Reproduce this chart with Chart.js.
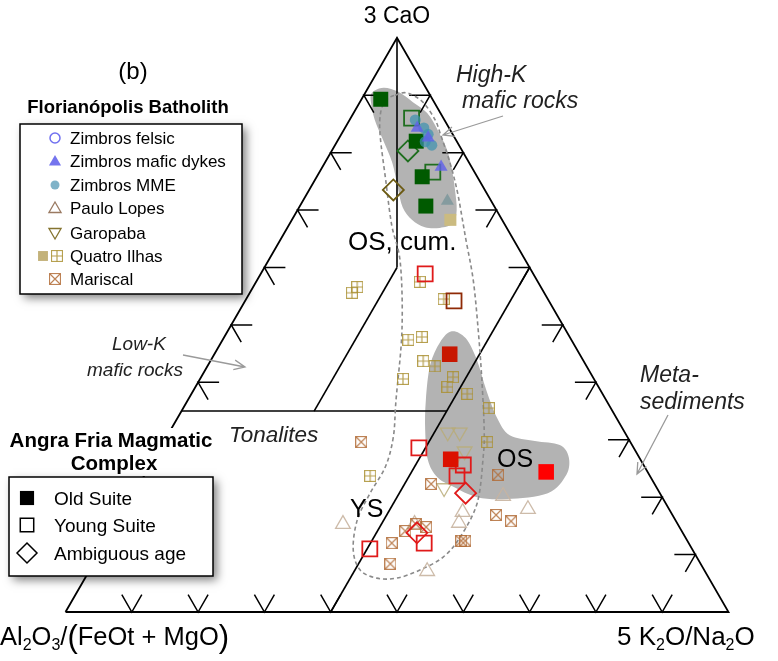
<!DOCTYPE html>
<html>
<head>
<meta charset="utf-8">
<script src="https://cdn.jsdelivr.net/npm/chart.js@4.4.1/dist/chart.umd.min.js"></script>
<style>
  html, body { margin: 0; padding: 0; background: #fff; }
  #wrap { width: 778px; height: 661px; }
</style>
</head>
<body>
<div id="wrap"><canvas id="ternary" width="778" height="661"></canvas></div>
<script>
// Compositions as [Al2O3/(FeOt+MgO), 3CaO, 5K2O/Na2O], in %
const zimbrosFelsic = [];
const zimbrosDykes = [[4.8, 84.3, 10.9], [4.0, 82.6, 13.4], [4.6, 77.5, 17.9]];
const zimbrosDykesGrey = [[6.6, 71.6, 21.8]];
const zimbrosMME = [[4.4, 85.7, 9.9], [3.8, 84.3, 11.9], [3.7, 83.2, 13.1], [4.8, 81.9, 13.3], [4.1, 81.3, 14.6]];
const pauloLopes = [[50.5, 15.3, 34.2], [23.9, 20.2, 55.9], [21.3, 17.9, 60.8], [31.4, 17.4, 51.2],
  [32.9, 15.5, 51.6], [41.9, 7.1, 51.0], [39.7, 15.3, 45.0]];
const garopaba = [[26.7, 31.3, 42.0], [24.9, 31.3, 43.8], [25.8, 28.0, 46.2], [28.5, 26.1, 45.4], [32.1, 21.6, 46.3]];
const quatroIlhasFilled = [[7.8, 68.3, 23.9]];
const quatroIlhas = [[27.7, 56.6, 15.7], [29.0, 55.6, 15.4], [17.8, 57.5, 24.7], [15.7, 54.5, 29.8],
  [24.6, 47.4, 28.0], [22.3, 47.9, 29.8], [24.2, 43.7, 32.1], [22.9, 42.8, 34.3], [28.8, 40.6, 30.6],
  [21.1, 40.9, 38.0], [22.8, 39.2, 38.0], [20.4, 38.0, 41.6], [18.4, 35.5, 46.1], [21.6, 29.6, 48.8],
  [42.2, 23.7, 34.1]];
const mariscal = [[40.6, 29.6, 29.8], [33.7, 22.3, 44.0], [22.8, 23.9, 53.3], [26.6, 16.9, 56.5],
  [24.9, 15.8, 59.3], [39.5, 15.3, 45.2], [41.7, 14.1, 44.2], [38.2, 14.8, 47.0], [44.8, 12.0, 43.2],
  [34.1, 12.4, 53.5], [33.5, 12.4, 54.1], [46.8, 8.4, 44.8]];

// Angra Fria Magmatic Complex
const oldSuiteGreen = [[7.8, 89.3, 2.9], [6.1, 82.0, 11.9], [8.3, 75.8, 15.9], [10.3, 70.7, 19.0]];
const youngSuiteGreen = [[4.8, 86.0, 9.2], [6.3, 76.6, 17.1]];
const ambiguousGreen = [[8.2, 80.3, 11.5]];
const ambiguousOlive = [[13.8, 73.5, 12.7]];
const oldSuiteRed = [[19.6, 44.9, 35.5], [28.6, 26.6, 44.8], [15.3, 24.4, 60.3]];
const youngSuiteRed = [[16.3, 58.9, 24.8], [32.4, 28.6, 39.0], [27.2, 25.6, 47.2], [29.1, 23.7, 47.2],
  [39.9, 12.0, 48.1], [48.6, 11.0, 40.4]];
const youngSuiteDarkRed = [[14.3, 54.2, 31.5]];
const ambiguousRed = [[29.3, 20.7, 50.0], [40.1, 13.8, 46.1]];

// Field boundaries
const fieldLines = [
  [[0, 100, 0], [20, 60, 20]],
  [[20, 60, 20], [45, 35, 20]],
  [[65, 35, 0], [25, 35, 40]],
  [[60, 0, 40], [0, 60, 40]]
];
const highKField = [[8.6, 90.4, 1.0], [6.4, 91.3, 2.3], [4.5, 90.6, 4.9], [3.2, 88.8, 8.0], [2.0, 86.9, 11.1],
  [1.9, 83.9, 14.2], [2.2, 80.5, 17.3], [3.2, 77.0, 19.8], [4.5, 73.5, 22.0], [6.0, 70.0, 24.0],
  [7.7, 67.7, 24.6], [10.1, 66.9, 23.0], [12.3, 67.0, 20.7], [13.6, 68.3, 18.1], [13.9, 70.5, 15.6],
  [12.9, 74.0, 13.1], [11.6, 78.2, 10.2], [11.0, 82.2, 6.8], [10.5, 85.7, 3.8], [9.6, 88.6, 1.8]];
const osField = [[17.3, 48.9, 33.8], [15.8, 47.7, 36.5], [16.0, 43.9, 40.1], [17.2, 38.7, 44.1],
  [18.0, 33.8, 48.2], [17.6, 30.8, 51.6], [14.3, 29.8, 55.9], [10.9, 29.1, 60.0], [10.6, 27.0, 62.4],
  [12.5, 23.9, 63.6], [16.9, 20.7, 62.4], [23.5, 19.7, 56.8], [27.9, 20.0, 52.1], [30.6, 21.8, 47.6],
  [32.2, 23.5, 44.3], [32.1, 26.5, 41.4], [29.9, 31.7, 38.4], [27.2, 36.9, 35.9], [23.5, 43.0, 33.5],
  [20.0, 47.0, 33.0]];
const ysOutline = [[5.3, 90.0, 4.7], [3.3, 90.4, 6.3], [1.7, 88.8, 9.5], [1.4, 85.7, 12.9], [1.8, 83.4, 14.8],
  [2.9, 78.2, 18.9], [4.2, 73.5, 22.3], [5.8, 68.8, 25.4], [7.2, 64.8, 28.0], [9.6, 57.8, 32.6],
  [13.2, 49.1, 37.7], [17.0, 40.4, 42.6], [21.0, 31.7, 47.3], [23.5, 27.0, 49.5], [28.4, 19.0, 52.6],
  [33.9, 13.1, 53.0], [38.2, 9.6, 52.2], [42.9, 7.3, 49.8], [47.1, 5.9, 47.0], [50.1, 5.9, 44.0],
  [51.9, 7.3, 40.8], [51.2, 10.8, 38.0], [48.0, 16.0, 36.0], [43.7, 20.7, 35.6], [39.1, 25.3, 35.6],
  [35.3, 30.5, 34.2], [31.7, 36.9, 31.4], [24.7, 49.1, 26.2], [19.1, 60.8, 20.1], [17.1, 67.4, 15.5],
  [14.1, 75.2, 10.7], [11.0, 83.1, 5.9], [8.9, 87.1, 4.0], [7.0, 89.2, 3.8]];

const SQ3 = Math.sqrt(3) / 2;
const FONT = "'Liberation Sans', Arial, Helvetica, sans-serif";

function toXY(p) {
  const s = p[0] + p[1] + p[2];
  const c = p[1] / s, k = p[2] / s;
  return { x: k + c / 2, y: c * SQ3 };
}

// little square glyphs used by Quatro Ilhas and Mariscal
function glyph(color, kind) {
  const cv = document.createElement('canvas');
  cv.width = 12; cv.height = 12;
  const g = cv.getContext('2d');
  g.strokeStyle = color;
  g.lineWidth = 1.2;
  g.strokeRect(0.5, 0.5, 11, 11);
  g.beginPath();
  if (kind === 'plus') {
    g.moveTo(6, 0.5); g.lineTo(6, 11.5);
    g.moveTo(0.5, 6); g.lineTo(11.5, 6);
  } else {
    g.moveTo(1, 1); g.lineTo(11, 11);
    g.moveTo(11, 1); g.lineTo(1, 11);
  }
  g.stroke();
  return cv;
}
const plusBox = glyph('rgba(170,145,50,0.85)', 'plus');
const crossBox = glyph('rgba(178,108,55,0.85)', 'cross');

function series(label, pts, style, radius, fill, stroke, width, rotation) {
  return {
    label: label,
    data: pts.map(toXY),
    showLine: false,
    pointStyle: style,
    pointRadius: radius,
    pointHoverRadius: radius,
    pointBackgroundColor: fill,
    pointBorderColor: stroke,
    pointBorderWidth: width,
    pointRotation: rotation || 0
  };
}

const NONE = 'rgba(0,0,0,0)';
// first dataset is painted last (on top)
const datasets = [
  series('Zimbros mafic dykes', zimbrosDykes, 'triangle', 7.5, 'rgba(95,95,235,0.8)', NONE, 0),
  series('Zimbros mafic dykes', zimbrosDykesGrey, 'triangle', 7.5, 'rgba(125,150,155,0.85)', NONE, 0),
  series('Zimbros MME', zimbrosMME, 'circle', 5.5, 'rgba(60,145,175,0.7)', NONE, 0),
  series('Zimbros felsic', zimbrosFelsic, 'circle', 5, NONE, '#7070f0', 1.5),
  series('Old Suite', oldSuiteGreen, 'rect', 10.6, '#005a00', NONE, 0),
  series('Young Suite', youngSuiteGreen, 'rect', 10.6, NONE, '#1e6e1e', 1.8),
  series('Ambiguous age', ambiguousGreen, 'rectRot', 10.5, NONE, '#1e6e1e', 1.8),
  series('Ambiguous age', ambiguousOlive, 'rectRot', 10.5, NONE, '#6b5a12', 1.8),
  series('Old Suite', oldSuiteRed, 'rect', 11, ['#c81600', '#dc1000', '#ff0000'], NONE, 0),
  series('Young Suite', youngSuiteRed, 'rect', 10.6, NONE, '#e01a1a', 1.8),
  series('Young Suite', youngSuiteDarkRed, 'rect', 10.6, NONE, '#8f2a06', 1.8),
  series('Ambiguous age', ambiguousRed, 'rectRot', 10.5, NONE, '#e01a1a', 1.8),
  series('Quatro Ilhas', quatroIlhasFilled, 'rect', 8.5, '#cbbb80', NONE, 0),
  series('Quatro Ilhas', quatroIlhas, plusBox, 6, NONE, NONE, 0),
  series('Mariscal', mariscal, crossBox, 6, NONE, NONE, 0),
  series('Garopaba', garopaba, 'triangle', 8.5, NONE, 'rgba(185,172,120,0.85)', 1.3, 180),
  series('Paulo Lopes', pauloLopes, 'triangle', 8.5, NONE, 'rgba(200,180,160,0.9)', 1.3)
];

function line(ctx, pts) {
  ctx.beginPath();
  ctx.moveTo(pts[0][0], pts[0][1]);
  for (let i = 1; i < pts.length; i++) ctx.lineTo(pts[i][0], pts[i][1]);
  ctx.stroke();
}

function smoothClosed(ctx, pts) {
  const n = pts.length;
  ctx.beginPath();
  ctx.moveTo(pts[0][0], pts[0][1]);
  for (let i = 0; i < n; i++) {
    const p0 = pts[(i - 1 + n) % n], p1 = pts[i], p2 = pts[(i + 1) % n], p3 = pts[(i + 2) % n];
    ctx.bezierCurveTo(p1[0] + (p2[0] - p0[0]) / 6, p1[1] + (p2[1] - p0[1]) / 6,
      p2[0] - (p3[0] - p1[0]) / 6, p2[1] - (p3[1] - p1[1]) / 6, p2[0], p2[1]);
  }
  ctx.closePath();
}

function arrow(ctx, x0, y0, x1, y1) {
  const a = Math.atan2(y1 - y0, x1 - x0), L = 12, w = 0.42;
  ctx.beginPath();
  ctx.moveTo(x0, y0); ctx.lineTo(x1, y1);
  ctx.moveTo(x1 - L * Math.cos(a - w), y1 - L * Math.sin(a - w));
  ctx.lineTo(x1, y1);
  ctx.lineTo(x1 - L * Math.cos(a + w), y1 - L * Math.sin(a + w));
  ctx.stroke();
}

// text made of runs: [text, size, baseline shift]
function rich(ctx, runs, x, y) {
  let cx = x;
  runs.forEach(r => {
    ctx.font = r[1] + 'px ' + FONT;
    ctx.fillText(r[0], cx, y + r[2]);
    cx += ctx.measureText(r[0]).width;
  });
}

function text(ctx, s, x, y, font, align) {
  ctx.font = font;
  ctx.textAlign = align || 'left';
  ctx.fillText(s, x, y);
  ctx.textAlign = 'left';
}

function shadowBox(ctx, x, y, w, h) {
  ctx.save();
  ctx.shadowColor = 'rgba(0,0,0,0.5)';
  ctx.shadowBlur = 9;
  ctx.shadowOffsetX = 4;
  ctx.shadowOffsetY = 4;
  ctx.fillStyle = '#fff';
  ctx.fillRect(x, y, w, h);
  ctx.restore();
  ctx.strokeStyle = '#000';
  ctx.lineWidth = 1.5;
  ctx.strokeRect(x, y, w, h);
}

function marker(ctx, style, r, fill, stroke, width, x, y, rotation) {
  ctx.save();
  ctx.fillStyle = fill;
  ctx.strokeStyle = stroke;
  ctx.lineWidth = width;
  Chart.helpers.drawPoint(ctx, { pointStyle: style, radius: r, rotation: rotation || 0, borderWidth: width }, x, y);
  ctx.restore();
}

const ternaryFrame = {
  id: 'ternaryFrame',
  beforeDatasetsDraw(chart) {
    const ctx = chart.ctx;
    const sx = chart.scales.x, sy = chart.scales.y;
    const px = p => { const q = toXY(p); return [sx.getPixelForValue(q.x), sy.getPixelForValue(q.y)]; };
    ctx.save();
    ctx.lineCap = 'butt';

    // shaded fields
    ctx.fillStyle = '#b3b3b3';
    smoothClosed(ctx, highKField.map(px)); ctx.fill();
    smoothClosed(ctx, osField.map(px)); ctx.fill();

    // frame and field lines
    ctx.strokeStyle = '#000';
    ctx.lineWidth = 1.8;
    line(ctx, [px([100, 0, 0]), px([0, 0, 100]), px([0, 100, 0]), px([100, 0, 0])]);
    ctx.lineWidth = 1.6;
    fieldLines.forEach(f => line(ctx, f.map(px)));

    // ticks every 10 %
    const T = 20, H = 21;
    ctx.lineWidth = 1.5;
    for (let i = 1; i < 10; i++) {
      const t = i * 10;
      const b = px([100 - t, 0, t]);
      line(ctx, [[b[0] - T * 0.5, b[1] - T * SQ3], b, [b[0] + T * 0.5, b[1] - T * SQ3]]);
      const l = px([100 - t, t, 0]);
      line(ctx, [[l[0] + H, l[1]], l, [l[0] + T * 0.5, l[1] + T * SQ3]]);
      const r = px([0, t, 100 - t]);
      line(ctx, [[r[0] - H, r[1]], r, [r[0] - T * 0.5, r[1] + T * SQ3]]);
    }

    // dashed outline of the suites
    ctx.strokeStyle = '#8a8a8a';
    ctx.lineWidth = 1.6;
    ctx.setLineDash([4, 3]);
    smoothClosed(ctx, ysOutline.map(px)); ctx.stroke();
    ctx.setLineDash([]);

    // labels
    ctx.fillStyle = '#000';
    text(ctx, '3 CaO', 397, 23, '23px ' + FONT, 'center');
    text(ctx, '(b)', 133, 79, '24px ' + FONT, 'center');
    rich(ctx, [['Al', 25.5, 0], ['2', 16, 5], ['O', 25.5, 0], ['3', 16, 5], ['/', 25.5, 0], ['(', 31, 2],
      ['FeOt + MgO', 25.5, 0], [')', 31, 2]], 0, 645);
    rich(ctx, [['5 K', 26, 0], ['2', 16, 5], ['O/Na', 26, 0], ['2', 16, 5], ['O', 26, 0]], 617, 645);
    text(ctx, 'OS, cum.', 348, 250, '26px ' + FONT);
    text(ctx, 'OS', 497, 467, '25px ' + FONT);
    text(ctx, 'YS', 350, 517, '25px ' + FONT);

    ctx.fillStyle = '#222';
    const it = 'italic 23px ' + FONT;
    text(ctx, 'High-K', 456, 82, it);
    text(ctx, 'mafic rocks', 462, 108, it);
    text(ctx, 'Low-K', 112, 350, 'italic 19px ' + FONT);
    text(ctx, 'mafic rocks', 87, 376, 'italic 19px ' + FONT);
    text(ctx, 'Meta-', 640, 382, it);
    text(ctx, 'sediments', 640, 409, it);
    text(ctx, 'Tonalites', 229, 442, 'italic 22.5px ' + FONT);

    ctx.strokeStyle = '#9a9a9a';
    ctx.lineWidth = 1.3;
    arrow(ctx, 503, 116, 443, 135);
    arrow(ctx, 183, 355, 245, 367);
    arrow(ctx, 668, 415, 637, 474);
    ctx.restore();
  },
  afterDraw(chart) {
    const ctx = chart.ctx;
    ctx.save();
    ctx.fillStyle = '#000';
    text(ctx, 'Florianópolis Batholith', 128, 113, 'bold 18.5px ' + FONT, 'center');
    shadowBox(ctx, 20, 124, 222, 170);
    const rows = [138, 161, 185, 208, 233, 256, 279];
    const names = ['Zimbros felsic', 'Zimbros mafic dykes', 'Zimbros MME', 'Paulo Lopes', 'Garopaba', 'Quatro Ilhas', 'Mariscal'];
    marker(ctx, 'circle', 5, '#fff', '#7070f0', 1.5, 55, rows[0]);
    marker(ctx, 'triangle', 7, '#7474ee', '#7474ee', 0, 55, rows[1] + 1);
    marker(ctx, 'circle', 4.5, '#7fb3c8', '#7fb3c8', 0, 55, rows[2]);
    marker(ctx, 'triangle', 7, '#fff', '#9a7a62', 1.3, 55, rows[3] + 1);
    marker(ctx, 'triangle', 7, '#fff', '#857430', 1.3, 55, rows[4] - 1, 180);
    marker(ctx, 'rect', 7, '#c3b27a', '#c3b27a', 0, 43, rows[5]);
    ctx.drawImage(plusBox, 51, rows[5] - 6);
    ctx.drawImage(crossBox, 49, rows[6] - 6);
    ctx.fillStyle = '#000';
    names.forEach((n, i) => text(ctx, n, 70, rows[i] + 6, '17px ' + FONT));

    // titles of the second key sit on a plain backing
    ctx.fillStyle = '#fff';
    ctx.fillRect(6, 428, 212, 48);
    ctx.fillStyle = '#000';
    text(ctx, 'Angra Fria Magmatic', 111, 447, 'bold 20.5px ' + FONT, 'center');
    text(ctx, 'Complex', 114, 470, 'bold 20.5px ' + FONT, 'center');
    shadowBox(ctx, 9, 477, 204, 99);
    marker(ctx, 'rect', 10, '#000', '#000', 0, 27, 498);
    marker(ctx, 'rect', 9.5, '#fff', '#000', 1.5, 27, 525);
    marker(ctx, 'rectRot', 10, '#fff', '#000', 1.5, 27, 553);
    ctx.fillStyle = '#000';
    ['Old Suite', 'Young Suite', 'Ambiguous age'].forEach((n, i) =>
      text(ctx, n, 54, [498, 525, 553][i] + 7, '19px ' + FONT));
    ctx.restore();
  }
};

new Chart(document.getElementById('ternary'), {
  type: 'scatter',
  data: { datasets: datasets },
  options: {
    responsive: false,
    devicePixelRatio: 1,
    animation: false,
    layout: { padding: 0, autoPadding: false },
    scales: {
      x: { type: 'linear', display: false, min: -65.5 / 663, max: (778 - 65.5) / 663 },
      y: { type: 'linear', display: false, min: -49 / 663, max: 612 / 663 }
    },
    plugins: { legend: { display: false }, tooltip: { enabled: false } }
  },
  plugins: [ternaryFrame]
});
</script>
</body>
</html>
